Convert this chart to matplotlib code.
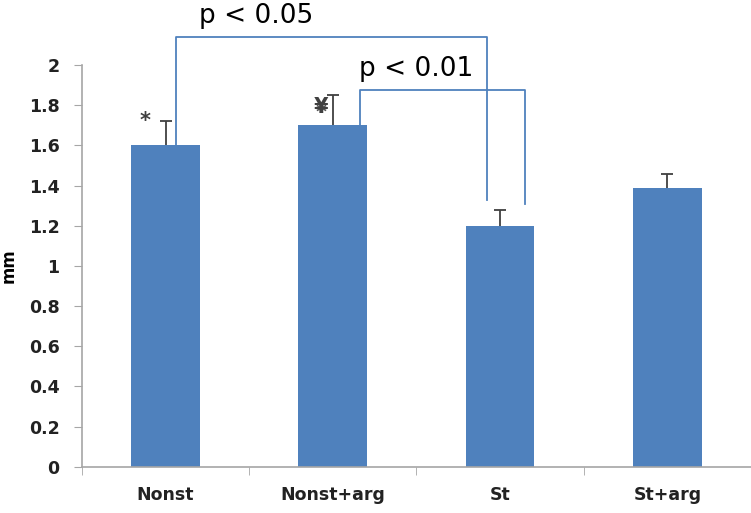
import matplotlib
matplotlib.use("Agg")
from matplotlib import pyplot as plt
import numpy as np

groups = ["Nonst", "Nonst+arg", "St", "St+arg"]
means = [1.60, 1.70, 1.20, 1.39]
errs = [0.12, 0.15, 0.08, 0.07]
yticks = [0, 0.2, 0.4, 0.6, 0.8, 1, 1.2, 1.4, 1.6, 1.8, 2]
ytick_labels = ["0", "0.2", "0.4", "0.6", "0.8", "1", "1.2", "1.4", "1.6", "1.8", "2"]

blue = "#4F81BD"
grey = "#A6A6A6"

fig = plt.figure(figsize=(7.51, 5.13), dpi=100)
ax = fig.add_axes([0.109, 0.090, 0.891, 0.783])

x = np.arange(len(groups))
means_a = np.array(means)
errs_a = np.array(errs)
ax.bar(x, means_a, width=0.41, color=blue, zorder=2)
# upper-only error bars: stem + top cap
ax.vlines(x, means_a, means_a + errs_a, color="#404040", lw=1.3, zorder=3)
ax.scatter(x, means_a + errs_a, marker="_", s=70, color="#404040",
           linewidths=1.3, zorder=3)

ax.set_xlim(-0.5, 3.5)
ax.set_ylim(0, 2)
ax.set_yticks(yticks)
ax.set_yticklabels(ytick_labels, fontsize=12.5, fontweight="bold", color="#222222")
ax.set_xticks(x)
ax.set_xticklabels(groups, fontsize=12.5, fontweight="bold", color="#222222")
ax.set_xticks(np.arange(-0.5, 4, 1), minor=True)
ax.tick_params(axis="x", which="major", length=0, pad=14)
ax.tick_params(axis="x", which="minor", length=6, color=grey, direction="out")
ax.tick_params(axis="y", length=6, color=grey, direction="out", pad=10)
ax.set_ylabel("mm", fontsize=12, fontweight="bold")
ax.yaxis.set_label_coords(-0.096, 0.5)

for s in ["top", "right"]:
    ax.spines[s].set_visible(False)
for s in ["left", "bottom"]:
    ax.spines[s].set_color(grey)
    ax.spines[s].set_linewidth(1.2)

# significance brackets
ax.plot([0.06, 0.06, 1.92, 1.92], [1.60, 2.14, 2.14, 1.33], color=blue,
        lw=1.3, clip_on=False, zorder=4)
ax.plot([1.16, 1.16, 2.15, 2.15], [1.70, 1.875, 1.875, 1.31], color=blue,
        lw=1.3, clip_on=False, zorder=4)
ax.text(0.54, 2.245, "p < 0.05", fontsize=19, ha="center", va="center", clip_on=False)
ax.text(1.50, 1.98, "p < 0.01", fontsize=19, ha="center", va="center")

# markers above bars
ax.text(-0.12, 1.72, "*", fontsize=15, color="#404040", ha="center", va="center", fontweight="bold")
ax.text(0.93, 1.76, "*", fontsize=15, color="#555555", ha="center", va="center", fontweight="bold")
ax.text(0.93, 1.79, "¥", fontsize=15, color="#404040", ha="center", va="center", fontweight="bold")

fig.savefig("out.png", dpi=100)
